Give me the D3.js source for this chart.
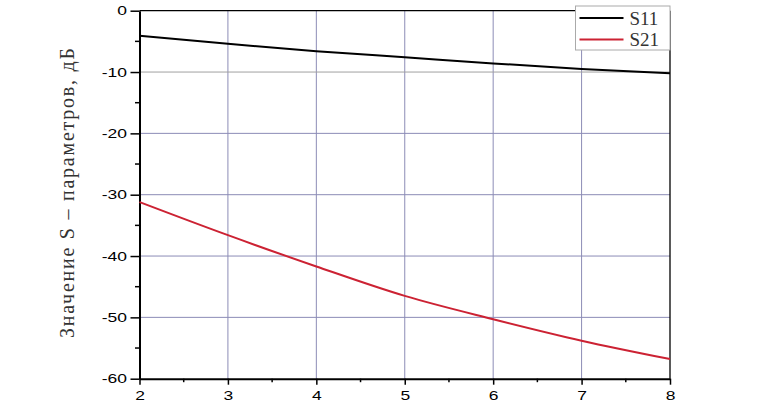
<!DOCTYPE html>
<html>
<head>
<meta charset="utf-8">
<script src="https://cdn.jsdelivr.net/npm/d3@7"></script>
<style>
  body { margin: 0; background: #fff; }
  svg { display: block; }
</style>
</head>
<body>
<div id="chart"></div>
<script>
// frequency points (x axis)
const freq = [2, 3, 4, 5, 6, 7, 8];
// S-parameter values, dB
const s11 = [-4.1, -5.4, -6.6, -7.6, -8.6, -9.5, -10.2];
const s21 = [-31.2, -36.6, -41.7, -46.5, -50.3, -53.8, -56.8];
const seriesNames = ["S11", "S21"];
const seriesColors = ["#000000", "#cc2233"];
const xTicks = [2, 3, 4, 5, 6, 7, 8];
const yTicks = [0, -10, -20, -30, -40, -50, -60];

var margin = { top: 10.7, right: 109, bottom: 26.3, left: 139.5 },
  width = 779 - margin.left - margin.right,
  height = 405 - margin.top - margin.bottom;

var svg = d3
  .select("#chart")
  .append("svg")
  .attr("width", 779)
  .attr("height", 405);

var g = svg
  .append("g")
  .attr("transform", "translate(" + margin.left + "," + margin.top + ")");

var x = d3.scaleLinear().domain([2, 8]).range([0, width]);
var y = d3.scaleLinear().domain([-60, 0]).range([height, 0]);

// grid
g.append("g")
  .selectAll("line")
  .data(xTicks.slice(1, -1))
  .enter()
  .append("line")
  .attr("x1", (d) => x(d))
  .attr("x2", (d) => x(d))
  .attr("y1", 0)
  .attr("y2", height)
  .attr("stroke", "#8c8cb6")
  .attr("stroke-width", 1);

g.append("g")
  .selectAll("line")
  .data(yTicks.slice(1, -1))
  .enter()
  .append("line")
  .attr("x1", 0)
  .attr("x2", width)
  .attr("y1", (d) => y(d))
  .attr("y2", (d) => y(d))
  .attr("stroke", (d) => (d === -10 ? "#a0a0a0" : "#8c8cb6"))
  .attr("stroke-width", 1);

// frame top/right
g.append("line")
  .attr("x1", 0).attr("x2", width).attr("y1", 0).attr("y2", 0)
  .attr("stroke", "#000").attr("stroke-width", 1.3);
g.append("line")
  .attr("x1", width).attr("x2", width).attr("y1", 0).attr("y2", height)
  .attr("stroke", "#000").attr("stroke-width", 1.3);

// minor ticks
var minorX = d3.range(2.5, 8, 1);
var minorY = d3.range(-55, 0, 10);
g.append("g")
  .selectAll("line")
  .data(minorX)
  .enter()
  .append("line")
  .attr("x1", (d) => x(d)).attr("x2", (d) => x(d))
  .attr("y1", height).attr("y2", height + 3.5)
  .attr("stroke", "#000").attr("stroke-width", 1.5);
g.append("g")
  .selectAll("line")
  .data(minorY)
  .enter()
  .append("line")
  .attr("x1", 0).attr("x2", -4.5)
  .attr("y1", (d) => y(d)).attr("y2", (d) => y(d))
  .attr("stroke", "#000").attr("stroke-width", 1.5);

// axes
var xAxis = g
  .append("g")
  .attr("transform", "translate(0," + height + ")")
  .call(d3.axisBottom(x).tickValues(xTicks).tickSize(6).tickSizeOuter(0).tickFormat(d3.format("d")));
var yAxis = g
  .append("g")
  .call(d3.axisLeft(y).tickValues(yTicks).tickSize(9).tickSizeOuter(0).tickFormat(d3.format("d")));

var stretch = 1.4;
[xAxis, yAxis].forEach((a) => {
  a.select(".domain").attr("stroke-width", 2);
  a.selectAll(".tick line").attr("stroke-width", 1.5);
  a.selectAll("text")
    .attr("font-family", "Liberation Sans, Arial, sans-serif")
    .attr("font-size", 12.5)
    .attr("fill", "#000")
    .attr("transform", "scale(" + stretch + ",1)");
});
xAxis.selectAll("text").attr("y", 12).attr("dy", "0.71em");
yAxis.selectAll("text")
  .attr("x", -12.5 / stretch)
  .text((d) => (d < 0 ? "-" + Math.abs(d) : d));

// lines
var line = d3
  .line()
  .x((d) => x(d[0]))
  .y((d) => y(d[1]))
  .curve(d3.curveMonotoneX);

[s11, s21].forEach((vals, i) => {
  g.append("path")
    .datum(freq.map((f, j) => [f, vals[j]]))
    .attr("fill", "none")
    .attr("stroke", seriesColors[i])
    .attr("stroke-width", 2)
    .attr("d", line);
});

// y title
svg
  .append("text")
  .attr("transform", "translate(74,193) rotate(-90)")
  .attr("text-anchor", "middle")
  .attr("font-family", "Liberation Serif, Times New Roman, serif")
  .attr("font-size", 20)
  .attr("textLength", 290)
  .attr("lengthAdjust", "spacing")
  .attr("fill", "#333")
  .text("Значение S – параметров, дБ");

// legend
var legend = svg.append("g").attr("transform", "translate(575.5,6)");
legend
  .append("rect")
  .attr("width", 94.5)
  .attr("height", 44)
  .attr("fill", "#fff")
  .attr("stroke", "#aaa")
  .attr("stroke-width", 1);
seriesNames.forEach((name, i) => {
  legend
    .append("line")
    .attr("x1", 4).attr("x2", 48)
    .attr("y1", 12 + i * 21.5).attr("y2", 12 + i * 21.5)
    .attr("stroke", seriesColors[i])
    .attr("stroke-width", 2);
  legend
    .append("text")
    .attr("x", 54)
    .attr("y", 18.5 + i * 21.5)
    .attr("font-family", "Liberation Serif, Times New Roman, serif")
    .attr("font-size", 19)
    .attr("fill", "#333")
    .text(name);
});
</script>
</body>
</html>
